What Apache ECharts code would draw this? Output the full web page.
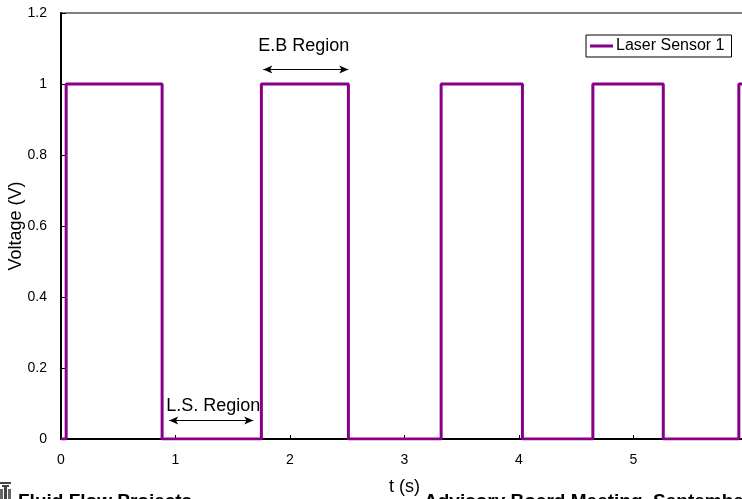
<!DOCTYPE html>
<html><head><meta charset="utf-8">
<script src="https://cdn.jsdelivr.net/npm/echarts@6/dist/echarts.min.js"></script>
<style>html,body{margin:0;padding:0;background:#fff}#c{width:742px;height:499px}</style>
</head><body><div id="c"></div><script>
// ---- data ----
const seriesName = 'Laser Sensor 1';
const edgeTimes  = [0.045, 0.883, 1.75, 2.51, 3.32, 4.03, 4.645, 5.26, 5.92]; // s
const edgeLevels = [1, 0, 1, 0, 1, 0, 1, 0, 1];  // voltage after each edge
const startLevel = 0;
const tRange = [0, 6];
const xTickStep = 1;
const yRange = [0, 1.2];
const yTickStep = 0.2;
const ebArrow = [1.767, 2.509, 1.041];   // t from, t to, V
const ebLabel = [2.12, 1.107, 'E.B Region'];
const lsArrow = [0.945, 1.679, 0.052];
const lsLabel = [1.33, 0.093, 'L.S. Region'];

// ---- build step points ----
const pts = [[tRange[0], startLevel]];
let lvl = startLevel;
edgeTimes.forEach((t, i) => { pts.push([t, lvl]); pts.push([t, edgeLevels[i]]); lvl = edgeLevels[i]; });
pts.push([tRange[1], lvl]);

const FF = "'Liberation Sans', Arial, sans-serif";
const chart = echarts.init(document.getElementById('c'), null, {renderer: 'canvas'});
chart.setOption({
  animation: false,
  backgroundColor: '#fff',
  textStyle: {fontFamily: FF},
  grid: {left: 61, right: -6, top: 13, bottom: 60, outerBoundsMode: 'none', containLabel: false,
         show: true, borderColor: '#000', borderWidth: 1, backgroundColor: 'transparent'},
  legend: {
    left: 586, top: 35, orient: 'horizontal',
    data: [{name: seriesName, icon: 'rect'}],
    itemWidth: 23, itemHeight: 3, itemGap: 4,
    padding: [3, 7, 3, 4],
    borderColor: '#000', borderWidth: 1, borderRadius: 0,
    itemStyle: {color: '#880088'},
    textStyle: {fontSize: 16, color: '#000', fontFamily: FF, padding: [0, 0, 0, -2]}
  },
  xAxis: {
    type: 'value', min: tRange[0], max: tRange[1], interval: xTickStep,
    name: 't (s)', nameLocation: 'middle', nameGap: 39, nameMoveOverlap: false,
    nameTextStyle: {fontSize: 18, color: '#000', fontFamily: FF},
    axisLine: {lineStyle: {color: '#000', width: 2}},
    axisTick: {inside: true, length: 4, lineStyle: {color: '#000'}},
    axisLabel: {fontSize: 14, color: '#000', margin: 14, fontFamily: FF},
    splitLine: {show: false}
  },
  yAxis: {
    type: 'value', min: yRange[0], max: yRange[1], interval: yTickStep,
    name: 'Voltage (V)', nameLocation: 'middle', nameGap: 36, nameRotate: 90, nameMoveOverlap: false,
    nameTextStyle: {fontSize: 18, color: '#000', fontFamily: FF},
    axisLine: {show: true, lineStyle: {color: '#000', width: 2}},
    axisTick: {show: true, inside: true, length: 5, lineStyle: {color: '#000'}},
    axisLabel: {fontSize: 14, color: '#000', margin: 14, fontFamily: FF},
    splitLine: {show: false}
  },
  series: [{
    name: seriesName, type: 'line', data: pts, symbol: 'none', showSymbol: false,
    lineStyle: {color: '#880088', width: 3}, itemStyle: {color: '#880088'},
    markLine: {
      silent: true, symbol: ['arrow', 'arrow'], symbolSize: [6, 9],
      label: {show: false},
      lineStyle: {color: '#000', width: 1, type: 'solid'},
      data: [
        [{coord: [ebArrow[0], ebArrow[2]]}, {coord: [ebArrow[1], ebArrow[2]]}],
        [{coord: [lsArrow[0], lsArrow[2]]}, {coord: [lsArrow[1], lsArrow[2]]}]
      ]
    },
    markPoint: {
      silent: true, symbol: 'circle', symbolSize: 1,
      itemStyle: {color: 'rgba(0,0,0,0)'},
      label: {show: true, position: 'inside', formatter: '{b}', fontSize: 18, color: '#000', fontFamily: FF},
      data: [
        {name: ebLabel[2], coord: [ebLabel[0], ebLabel[1]]},
        {name: lsLabel[2], coord: [lsLabel[0], lsLabel[1]]}
      ]
    }
  }],
  graphic: [
    {type: 'group', left: 0, top: 482, children: [
      {type: 'rect', shape: {x: 1, y: 0, width: 11, height: 2}, style: {fill: '#444'}},
      {type: 'rect', shape: {x: 3, y: 3, width: 7, height: 2}, style: {fill: '#444'}},
      {type: 'rect', shape: {x: 5, y: 5, width: 3, height: 12}, style: {fill: '#444'}},
      {type: 'rect', shape: {x: 1, y: 7, width: 3, height: 10}, style: {fill: '#666'}},
      {type: 'rect', shape: {x: 9, y: 7, width: 3, height: 10}, style: {fill: '#666'}}
    ]},
    {type: 'text', left: 18, top: 492, style: {text: 'Fluid Flow Projects', font: "bold 19px 'Liberation Sans', Arial", fill: '#000'}},
    {type: 'text', left: 424, top: 492, style: {text: 'Advisory Board Meeting, September', font: "bold 19px 'Liberation Sans', Arial", fill: '#000'}}
  ]
});
</script></body></html>
